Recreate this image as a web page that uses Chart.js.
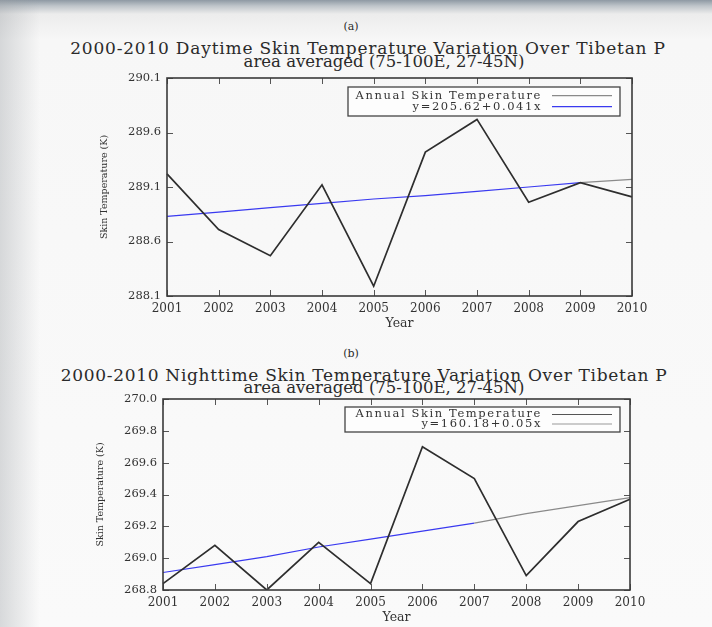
<!DOCTYPE html>
<html>
<head>
<meta charset="utf-8">
<script src="https://cdn.jsdelivr.net/npm/chart.js@4.4.1/dist/chart.umd.min.js"></script>
<style>
  html, body { margin:0; padding:0; }
  body { width:712px; height:627px; position:relative; overflow:hidden;
    background: linear-gradient(to bottom, #8e99a3 0px, #bfc5ca 6px, #ececec 14px, #f7f7f7 40px, #fafafa 100%);
    font-family: "DejaVu Serif", "Liberation Serif", serif; color:#222; }
  .side { position:absolute; left:0; top:0; width:40px; height:627px;
    background: linear-gradient(to right, rgba(150,155,160,0.35), rgba(240,240,240,0)); }
  .txt { position:absolute; left:0; width:712px; text-align:center; white-space:nowrap; color:#2a2a2a; }
  canvas { position:absolute; left:0; }
</style>
</head>
<body>
<div class="side"></div>
<div class="txt" style="top:20px;font-size:11px;left:-5px;">(a)</div>
<div class="txt" style="top:38px;font-size:17px;left:12px;letter-spacing:0.8px;line-height:20px;">2000-2010 Daytime Skin Temperature Variation Over Tibetan P</div>
<div class="txt" style="top:53px;font-size:16.5px;left:28px;line-height:18px;">area averaged (75-100E, 27-45N)</div>
<div class="txt" style="top:347px;font-size:11px;left:-5px;">(b)</div>
<div class="txt" style="top:365px;font-size:17px;left:8px;letter-spacing:0.7px;line-height:20px;">2000-2010 Nighttime Skin Temperature Variation Over Tibetan P</div>
<div class="txt" style="top:379px;font-size:16.5px;left:28px;line-height:18px;">area averaged (75-100E, 27-45N)</div>

<div style="position:absolute;left:0;top:0;width:712px;height:336px;"><canvas id="c1" width="712" height="336"></canvas></div>
<div style="position:absolute;left:0;top:340px;width:712px;height:287px;"><canvas id="c2" width="712" height="287"></canvas></div>

<script>
// ---------- data ----------
const years = ["2001","2002","2003","2004","2005","2006","2007","2008","2009","2010"];

const dayTemp  = [289.22, 288.71, 288.47, 289.12, 288.19, 289.42, 289.72, 288.96, 289.14, 289.01];
const dayTrend = [288.83, 288.87, 288.91, 288.95, 288.99, 289.02, 289.06, 289.10, 289.14, 289.17];
const dayTicks = [288.1, 288.6, 289.1, 289.6, 290.1];

const nightTemp  = [268.84, 269.08, 268.80, 269.10, 268.84, 269.70, 269.50, 268.89, 269.23, 269.37];
const nightTrend = [268.91, 268.96, 269.01, 269.07, 269.12, 269.17, 269.22, 269.28, 269.33, 269.38];
const nightTicks = [268.8, 269.0, 269.2, 269.4, 269.6, 269.8, 270.0];

const legendLabelA = ["Annual Skin Temperature", "y=205.62+0.041x"];
const legendLabelB = ["Annual Skin Temperature", "y=160.18+0.05x"];

// ---------- helpers ----------
const FONT = "DejaVu Serif";

const framePlugin = {
  id: 'frame',
  afterDatasetsDraw(chart) {
    const {ctx, chartArea:a, scales} = chart;
    ctx.save();
    ctx.strokeStyle = '#555';
    ctx.lineWidth = 1;
    scales.x.ticks.forEach((t, i) => {
      const px = Math.round(scales.x.getPixelForTick(i)) + 0.5;
      ctx.beginPath();
      ctx.moveTo(px, a.bottom); ctx.lineTo(px, a.bottom - 6);
      ctx.moveTo(px, a.top); ctx.lineTo(px, a.top + 6);
      ctx.stroke();
    });
    scales.y.ticks.forEach(t => {
      const py = Math.round(scales.y.getPixelForValue(t.value)) + 0.5;
      ctx.beginPath();
      ctx.moveTo(a.left, py); ctx.lineTo(a.left + 6, py);
      ctx.moveTo(a.right, py); ctx.lineTo(a.right - 6, py);
      ctx.stroke();
    });
    ctx.strokeStyle = '#3a3a3a';
    ctx.lineWidth = 1.6;
    ctx.strokeRect(a.left, a.top, a.right - a.left, a.bottom - a.top);
    ctx.restore();
  }
};

const boxLegendPlugin = {
  id: 'boxLegend',
  afterDraw(chart, args, opts) {
    const {ctx, chartArea:a} = chart;
    const x1 = a.right - opts.right - opts.width, y1 = a.top + opts.top;
    ctx.save();
    ctx.fillStyle = '#fdfdfd';
    ctx.fillRect(x1, y1, opts.width, opts.height);
    ctx.strokeStyle = '#444';
    ctx.lineWidth = 1.3;
    ctx.strokeRect(x1, y1, opts.width, opts.height);
    ctx.font = opts.fontSize + 'px "' + FONT + '"';
    if ('letterSpacing' in ctx) ctx.letterSpacing = opts.spacing + 'px';
    ctx.textAlign = 'right';
    ctx.textBaseline = 'middle';
    const textX = x1 + opts.width - opts.sampleLen - 18;
    chart.data.datasets.forEach((ds, i) => {
      const y = y1 + opts.height * (i === 0 ? 0.3 : 0.68);
      ctx.fillStyle = '#333';
      ctx.fillText(opts.labels[i], textX, y);
      ctx.strokeStyle = opts.sampleColors[i];
      ctx.lineWidth = 1.2;
      ctx.beginPath();
      ctx.moveTo(textX + 10, y); ctx.lineTo(textX + 10 + opts.sampleLen, y);
      ctx.stroke();
    });
    ctx.restore();
  }
};

function makeChart(id, temp, trend, ticks, cfg) {
  return new Chart(document.getElementById(id), {
    type: 'line',
    data: {
      labels: years,
      datasets: [
        { data: temp, borderColor: '#2e2e2e', borderWidth: 1.7, pointRadius: 0, tension: 0, fill: false },
        { data: trend, borderWidth: 1.2, pointRadius: 0, tension: 0, fill: false,
          borderColor: '#3a3af0',
          segment: { borderColor: c => c.p0DataIndex >= cfg.grayFrom ? '#8a8a8a' : '#3a3af0' } }
      ]
    },
    options: {
      responsive: false,
      animation: false,
      events: [],
      layout: { padding: cfg.padding },
      plugins: {
        legend: { display: false },
        tooltip: { enabled: false },
        boxLegend: cfg.legend
      },
      scales: {
        x: {
          type: 'category',
          offset: false,
          grid: { display: false, drawTicks: false },
          border: { display: false },
          ticks: { color: '#333', font: { family: FONT, size: 12 }, padding: cfg.xTickPad, maxRotation: 0, autoSkip: false },
          title: { display: true, text: 'Year', color: '#333', font: { family: FONT, size: 12.5 }, padding: { top: 0, bottom: cfg.yearPad } },
          afterFit(s) { s.height = cfg.xHeight; }
        },
        y: {
          min: ticks[0], max: ticks[ticks.length - 1],
          grid: { display: false, drawTicks: false },
          border: { display: false },
          afterBuildTicks(s) { s.ticks = ticks.map(v => ({ value: v })); },
          ticks: { color: '#333', font: { family: FONT, size: 11.5 }, padding: 6,
                   callback: v => Number(v).toFixed(1) },
          title: { display: true, text: 'Skin Temperature (K)', color: '#333', font: { family: FONT, size: 9.5 }, padding: { top: 0, bottom: 4 } },
          afterFit(s) { s.width = cfg.yWidth; }
        }
      }
    },
    plugins: [framePlugin, boxLegendPlugin]
  });
}

makeChart('c1', dayTemp, dayTrend, dayTicks, {
  padding: { left: 99, right: 80, top: 78, bottom: 0 },
  yWidth: 68, xHeight: 40, xTickPad: 6, yearPad: 5, grayFrom: 8,
  legend: { labels: legendLabelA, right: 12, top: 9, width: 272, height: 29, fontSize: 11.5, spacing: 1.6,
            sampleLen: 60, sampleColors: ['#8a8a8a', '#3a3af0'] }
});

makeChart('c2', nightTemp, nightTrend, nightTicks, {
  padding: { left: 95, right: 82, top: 59, bottom: 0 },
  yWidth: 68, xHeight: 37, xTickPad: 6, yearPad: 2, grayFrom: 6,
  legend: { labels: legendLabelB, right: 10, top: 8, width: 275, height: 25, fontSize: 11.5, spacing: 1.6,
            sampleLen: 60, sampleColors: ['#555', '#9a9a9a'] }
});
</script>
</body>
</html>
